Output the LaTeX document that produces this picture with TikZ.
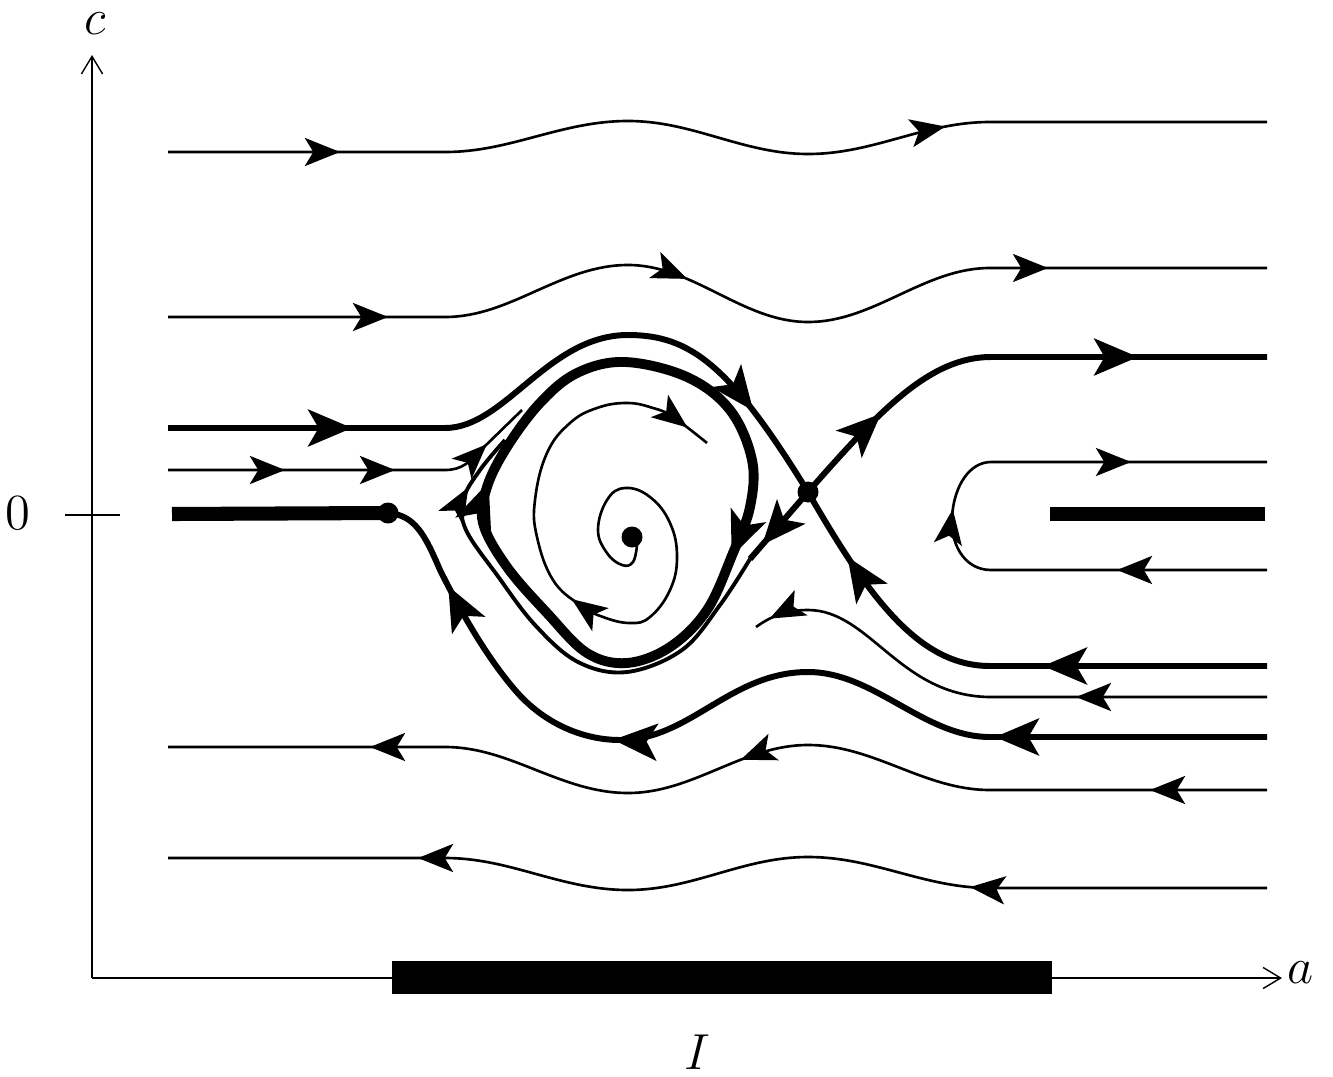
\documentclass[tikz,border=0pt]{standalone}
\usetikzlibrary{arrows.meta,decorations.markings}
\tikzset{
  flowtip/.tip={Stealth[length=10pt,width=8pt,inset=2.4pt]},
  bigtip/.tip={Stealth[length=12.5pt,width=10.5pt,inset=3pt]},
  tip at/.style={
    postaction={decorate,decoration={markings,
      mark=at position #1 with {\arrow{flowtip}}}}
  },
  bigtip at/.style={
    postaction={decorate,decoration={markings,
      mark=at position #1 with {\arrow{bigtip}}}}
  },
  axis/.style={
    line width=0.4pt,
    -{Straight Barb[length=5pt,width=6pt]}
  },
  orbit/.style={line width=0.75pt},
  midorbit/.style={line width=1.1pt},
  manifold/.style={line width=1.7pt},
  limitcycle/.style={line width=2.8pt},
  bar/.style={line width=4pt},
  eqpt/.style={
    shape = circle,
    fill,
    inner sep = 0pt,
    minimum size = 2.1mm
  }
}
\begin{document}
\begin{tikzpicture}[x=0.1mm,y=-0.1mm,font=\Large]
  \useasboundingbox (0,0) rectangle (1333,1076);
  % axes
  \coordinate (O) at (92,978);
  \draw[axis] (O) -- (92,55) coordinate (ctop);
  \draw[axis] (O) -- (1282,978) coordinate (aend);
  \node[inner sep=0pt] (clab) at (95,24) {$c$};
  \node (alab) at (1300,973) {$a$};
  \draw[line width=0.4pt] (65,515) -- (120,515);
  \node (zero) at (18,513) {$0$};
  \fill (392,961) rectangle (1052,994);
  \node (Ilab) at (697,1052) {$I$};

  % equilibria
  \node[eqpt] (focus) at (632,537) {};
  \node[eqpt] (saddle) at (808,492) {};
  \node[eqpt] (lefteq) at (388,513) {};

  % upper orbits
  \draw[orbit, tip at=1.72cm, tip at=-3.22cm] (168,152) -- (445,152)
    cos (536,136.5) sin (628,121) cos (718,137.5) sin (808,154)
    cos (899,138) sin (990,122) -- (1267,122);
  \draw[orbit, tip at=2.2cm, tip at=5.3cm, tip at=-2.19cm] (168,317) -- (445,317)
    cos (536,291) sin (628,265) cos (718,293.5) sin (808,322)
    cos (899,295) sin (990,268) -- (1267,268);
  \draw[orbit, tip at=1.17cm, tip at=2.27cm, tip at=-0.49cm] (168,470) -- (445,470)
    .. controls (462,470) and (470,462) .. (483,448) -- (522,410);

  % separatrices of the saddle
  \draw[manifold, bigtip at=1.84cm, bigtip at=-0.98cm] (168,428) -- (445,428)
    .. controls (505,428) and (548,335) .. (628,335)
    .. controls (690,335) and (730,365) .. (saddle.center);
  \draw[manifold, bigtip at=2.24cm, bigtip at=-0.76cm] (1267,666) -- (990,666)
    .. controls (920,666) and (870,600) .. (saddle.center);
  \draw[manifold, bigtip at=1.07cm, bigtip at=-1.29cm] (saddle.center)
    .. controls (880,410) and (930,357) .. (991,357) -- (1267,357);
  \draw[manifold, bigtip at=0.7cm] (saddle.center) -- (750,559);
  \draw[midorbit, tip at=-0.6cm] plot[smooth, tension=0.6] coordinates {
    (750,559) (720,605) (682,650) (627,672) (578,662) (535,625)
    (497,575) (466,530) (463,500) (480,470) (505,440)};

  % limit cycle and spiral
  \draw[limitcycle, bigtip at=2.1cm, bigtip at=6.2cm]
    plot[smooth cycle, tension=0.6] coordinates {
    (625,362) (687,377) (730,410) (752,460) (750,507) (733,553)
    (707,610) (670,647) (627,663) (587,653) (547,613) (507,567)
    (483,523) (487,487) (507,447) (540,403) (577,373)};
  \draw[orbit, tip at=3.78cm, tip at=-0.25cm]
    plot[smooth, tension=0.7] coordinates {
    (637,545) (633,562) (622,565) (607,553) (598,530) (607,500)
    (625,488) (650,497) (670,523) (677,557) (670,590) (650,617)
    (630,623) (603,617) (580,605) (553,580) (537,537) (535,500)
    (547,453) (570,423) (597,408) (627,403) (653,408) (673,417)
    (707,443)};

  % left equilibrium and its incoming orbit
  \draw[bar] (172,514) -- (lefteq.center);
  \draw[manifold, bigtip at=2.72cm, bigtip at=6.82cm, bigtip at=-1.0cm]
    (1267,737) -- (990,737) cos (899,704.5) sin (808,672)
    .. controls (730,672) and (690,740) .. (620,740)
    .. controls (585,740) and (545,725) .. (515,690)
    .. controls (485,655) and (460,610) .. (440,570)
    .. controls (425,535) and (415,515) .. (lefteq.center);

  % lower orbits
  \draw[orbit, tip at=1.91cm, tip at=-0.16cm] (1267,697) -- (991,697)
    .. controls (900,697) and (870,610) .. (808,610)
    .. controls (785,610) and (770,617) .. (756,627);
  \draw[orbit, tip at=1.17cm, tip at=5.35cm, tip at=-2.02cm] (1267,790) -- (990,790)
    cos (899,767.5) sin (808,745) cos (718,769) sin (628,793)
    cos (536,770) sin (445,747) -- (168,747);
  \draw[orbit, tip at=2.97cm, tip at=-2.5cm] (1267,888) -- (990,888)
    cos (899,872.5) sin (808,857) cos (718,873.5) sin (628,890)
    cos (536,874) sin (445,858) -- (168,858);

  % right side
  \draw[orbit, tip at=1.5cm, tip at=3.58cm, tip at=-1.36cm] (1267,570) -- (991,570)
    .. controls (962,570) and (950,540) .. (952,517)
    .. controls (954,485) and (970,462) .. (991,462) -- (1267,462);
  \draw[bar] (1050,514) -- (1265,514);
\end{tikzpicture}
\end{document}
